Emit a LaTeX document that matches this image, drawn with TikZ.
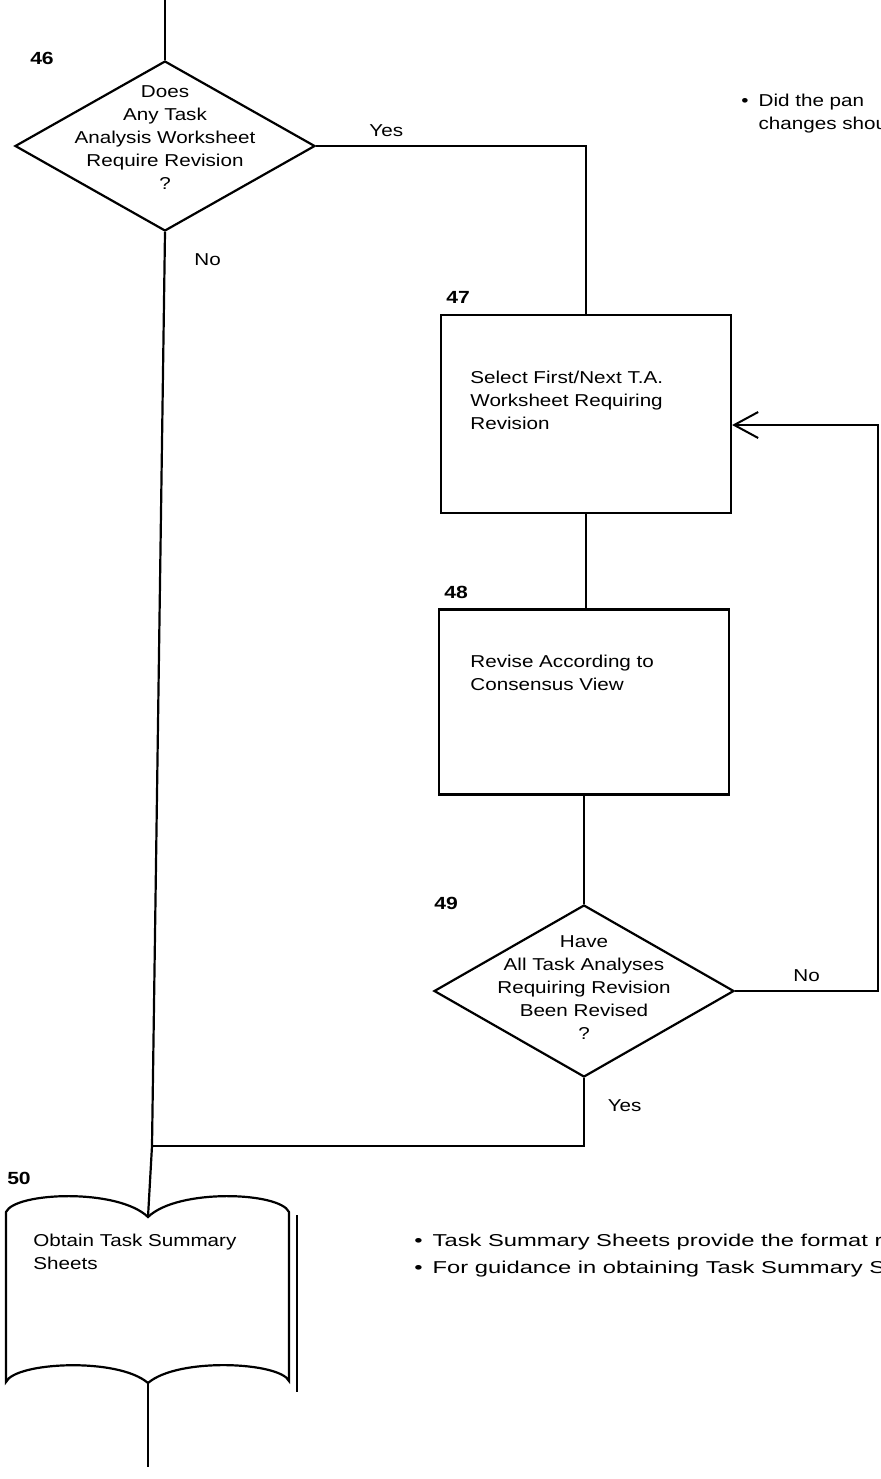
\documentclass[tikz,border=0pt]{standalone}
\usepackage{fontspec}
\setmainfont{Liberation Sans}[FakeStretch=1.2]
\newfontfamily\notefont{Liberation Sans}[FakeStretch=1.38]
\usetikzlibrary{positioning, arrows.meta, shapes.geometric}

\begin{document}
\begin{tikzpicture}[
      x=0.5pt, y=-0.5pt,
      every node/.style={font=\fontsize{8.6}{11.5}\selectfont},
      line/.style={draw=black, line width=1.1pt},
      decision/.style={diamond, draw, line width=1.1pt, minimum width=150pt,
                       minimum height=85pt, inner sep=0pt},
      process/.style={rectangle, draw, line width=1.1pt, minimum width=145pt,
                      inner sep=0pt},
      qtext/.style={align=center, inner sep=0pt},
      btext/.style={align=left, anchor=west, inner sep=0pt},
      stepnum/.style={font=\fontsize{8.8}{11}\selectfont\bfseries, inner sep=0pt},
      note/.style={align=left, anchor=west, inner sep=0pt},
      widenote/.style={note, font=\fontsize{8.6}{11.5}\notefont},
      arr/.style={-{Straight Barb[length=12pt, width=13pt, line width=1pt]},
                  line width=1.1pt},
    ]
    \useasboundingbox (0,0) rectangle (881,1479);

    % decisions and boxes
    \node[decision, label={[qtext, yshift=4pt]center:{Does\\Any Task\\Analysis Worksheet\\Require Revision\\?}}] (d46) at (165,146) {};
    \node[process, minimum height=99pt] (b47) at (586,414) {};
    \node[process, minimum height=92.5pt] (b48) at (584,702) {};
    \node[decision, minimum height=86pt, label={[qtext, yshift=1.5pt]center:{Have\\All Task Analyses\\Requiring Revision\\Been Revised\\?}}] (d49) at (584,991) {};

    \node[btext] (t47) at (470,400) {Select First/Next T.A.\\Worksheet Requiring\\Revision};
    \node[btext] (t48) at (470,673) {Revise According to\\Consensus View};

    \node[stepnum] (n46) at (42,58)    {46};
    \node[stepnum] (n47) at (458,297)  {47};
    \node[stepnum] (n48) at (456,592)  {48};
    \node[stepnum] (n49) at (446,903)  {49};
    \node[stepnum] (n50) at (19,1178)  {50};

    % document shape 50
    \draw[line] (6,1212) .. controls (15,1192) and (118,1188) .. (148,1217) coordinate (n50top)
      .. controls (178,1188) and (280,1192) .. (289,1212) -- (289,1381)
      .. controls (280,1362) and (178,1357) .. (148,1383) coordinate (n50bot)
      .. controls (118,1357) and (15,1362) .. (6,1382) -- cycle;
    \draw[line, line width=0.7pt] (297,1215) -- (297,1392);
    \node[btext] (t50) at (33,1252) {Obtain Task Summary\\Sheets};

    % connectors
    \coordinate (top) at (165,0);
    \coordinate (bottom) at (148,1467);
    \coordinate (j50) at (152,1146);
    \coordinate (loop) at (878,991);

    \draw[line] (top) -- (d46.north);
    \draw[line] (d46.east) -- node[above=1pt, pos=0.26] {Yes} (d46.east -| b47.north) -- (b47.north);
    \draw[line] (d46.south) -- node[right=11pt, pos=0.03] {No} (j50) -- (n50top);
    \draw[line] (b47.south) -- (b47.south |- b48.north);
    \draw[line] (b48.south) -- (d49.north);
    \draw[arr] (d49.east) -- node[above=1pt, pos=0.5] {No} (loop) |- ([yshift=-5.5pt]b47.east);
    \draw[line] (d49.south) -- node[right=8pt, pos=0.4] {Yes} (d49.south |- j50) -- (j50);
    \draw[line] (n50bot) -- (bottom);

    % notes
    \node[note] (note46) at (741,114) {\textbullet\hspace{5pt}Did the pan\\\phantom{\textbullet\hspace{5pt}}changes shou};
    \node[widenote] (note50) at (414,1256) {\textbullet\hspace{5pt}Task Summary Sheets provide the format r\\[2pt]\textbullet\hspace{5pt}For guidance in obtaining Task Summary S};
  \end{tikzpicture}
\end{document}
